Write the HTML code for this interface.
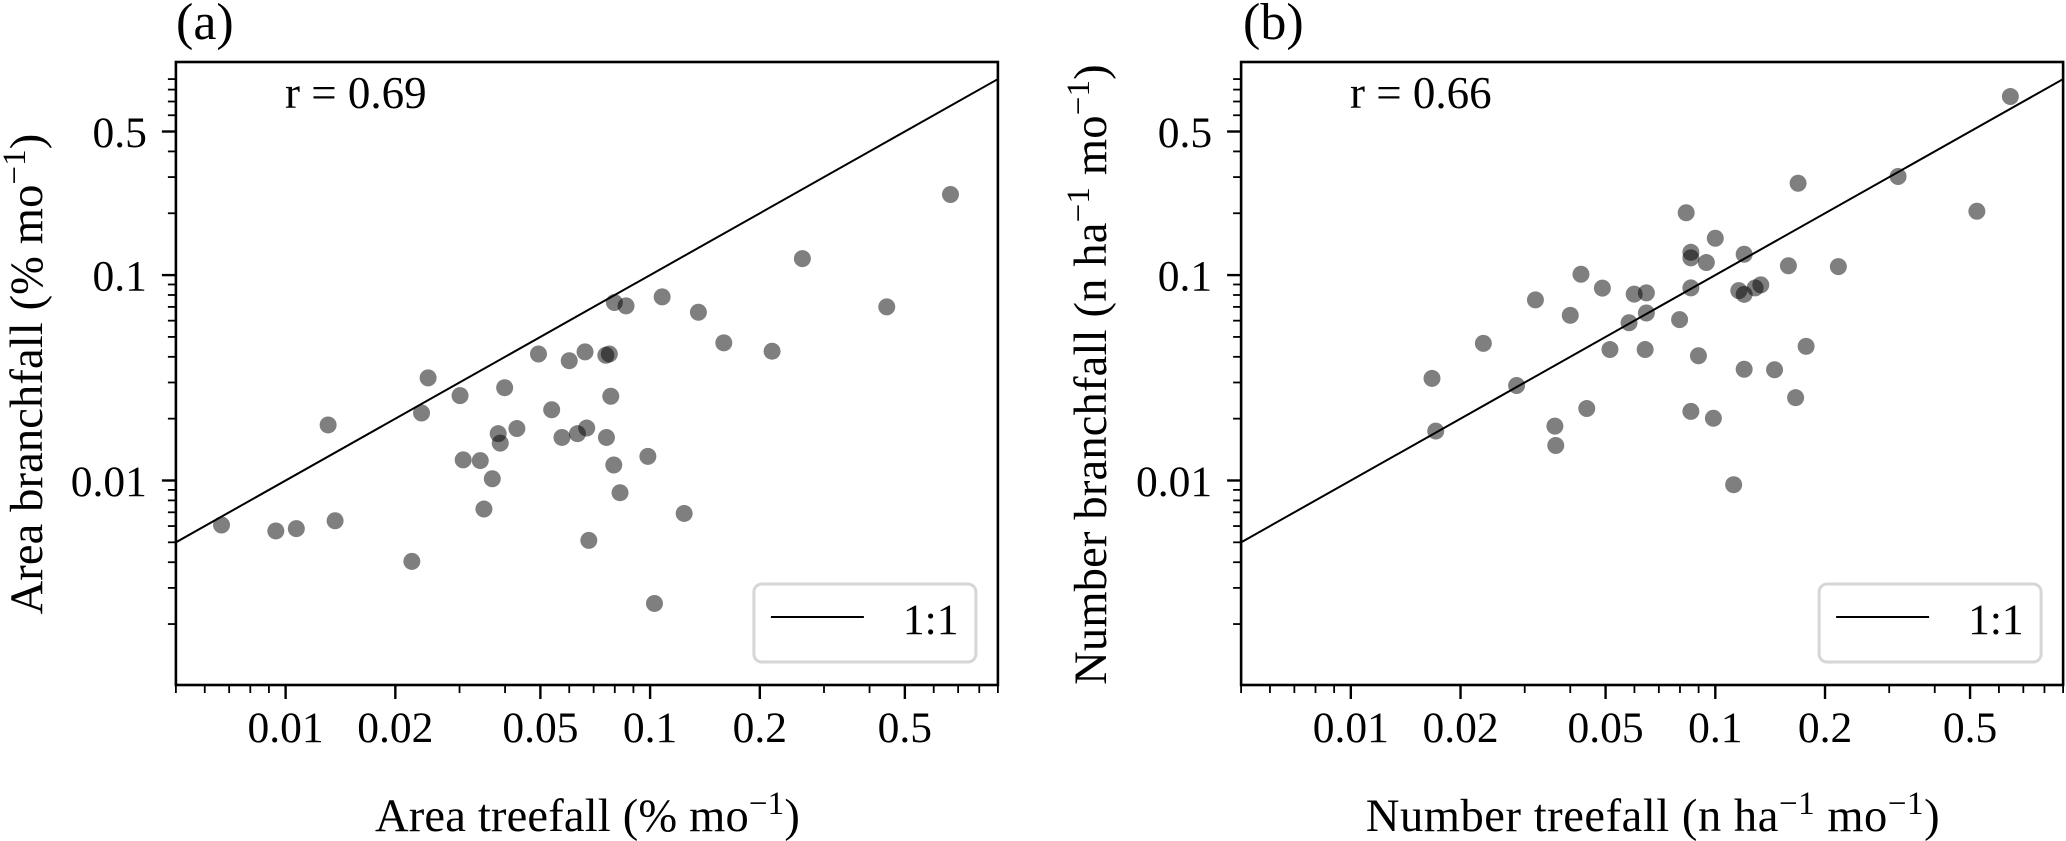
<!DOCTYPE html>
<html>
<head>
<meta charset="utf-8">
<title>Branchfall versus treefall</title>
<style>
html,body{margin:0;padding:0;background:#fff;}
svg{display:block;}
text{font-family:"Liberation Serif",serif;fill:#000;}
.tick{font-size:43.5px;}
.lab{font-size:46.5px;}
.ttl{font-size:52px;}
.rv{font-size:45px;}
</style>
</head>
<body>
<svg id="fig" xmlns="http://www.w3.org/2000/svg" width="2066" height="841" viewBox="0 0 2066 841">
<rect x="0" y="0" width="2066" height="841" fill="#fff"/>
<g id="panel-a"></g>
<g id="panel-b"></g>

<text class="ttl" x="176" y="39">(a)</text>
<text class="ttl" x="1243" y="39">(b)</text>

<text class="rv" x="285" y="108" xml:space="preserve">r = 0.69</text>
<text class="rv" x="1350" y="108" xml:space="preserve">r = 0.66</text>

<text class="lab" x="587.5" y="831" text-anchor="middle" letter-spacing="0.18">Area treefall (% mo<tspan font-size="33" dy="-17">−1</tspan><tspan dy="17">)</tspan></text>
<text class="lab" x="1653" y="831" text-anchor="middle" letter-spacing="0.55">Number treefall (n ha<tspan font-size="33" dy="-17">−1</tspan><tspan dy="17"> mo</tspan><tspan font-size="33" dy="-17">−1</tspan><tspan dy="17">)</tspan></text>
<text class="lab" transform="translate(42,374) rotate(-90)" text-anchor="middle" letter-spacing="0.12">Area branchfall (% mo<tspan font-size="33" dy="-17">−1</tspan><tspan dy="17">)</tspan></text>
<text class="lab" transform="translate(1106,374.5) rotate(-90)" text-anchor="middle" letter-spacing="0.18">Number branchfall (n ha<tspan font-size="33" dy="-17">−1</tspan><tspan dy="17"> mo</tspan><tspan font-size="33" dy="-17">−1</tspan><tspan dy="17">)</tspan></text>
</svg>

<script>
const areaTreefall = [0.00667,0.0094,0.0107,0.01367,0.0222,0.01308,0.0246,0.0236,0.0301,0.0399,0.0494,0.06,0.0663,0.0537,0.0431,0.0383,0.0388,0.0307,0.0342,0.0369,0.035,0.0573,0.0632,0.067,0.0679,0.0756,0.0773,0.078,0.0798,0.0859,0.1079,0.1357,0.1593,0.2161,0.0759,0.0795,0.0986,0.0827,0.124,0.1028,0.2617,0.446,0.667];
const areaBranchfall = [0.00607,0.00568,0.00583,0.00637,0.00404,0.01864,0.0316,0.0213,0.0259,0.0283,0.0413,0.0383,0.0423,0.0221,0.0179,0.0169,0.0152,0.0126,0.0125,0.0102,0.00726,0.0162,0.0169,0.018,0.00511,0.0407,0.0413,0.0257,0.0735,0.0708,0.0783,0.0659,0.0468,0.0426,0.0162,0.0119,0.0131,0.00872,0.00691,0.00252,0.1203,0.07,0.2467];
const numberTreefall = [0.0167,0.0171,0.0231,0.0285,0.0363,0.0365,0.0444,0.0514,0.0642,0.0899,0.12,0.1454,0.1661,0.0857,0.0988,0.1123,0.0832,0.1,0.0857,0.0857,0.0945,0.12,0.1587,0.2176,0.1687,0.3173,0.522,0.645,0.049,0.0599,0.0647,0.0647,0.058,0.0798,0.0857,0.116,0.12,0.1286,0.1333,0.1775,0.0321,0.0428,0.04];
const numberBranchfall = [0.0314,0.0174,0.0465,0.029,0.0184,0.0148,0.0224,0.0434,0.0434,0.0405,0.0348,0.0346,0.0253,0.0217,0.0201,0.00954,0.2011,0.1511,0.1291,0.1213,0.1151,0.1263,0.111,0.11,0.28,0.302,0.2045,0.74,0.0864,0.0808,0.0819,0.0654,0.0586,0.0607,0.0866,0.084,0.0806,0.0866,0.0896,0.045,0.0757,0.1009,0.0637];

const xTickValues = [0.01,0.02,0.05,0.1,0.2,0.5];
const xTickLabels = ["0.01","0.02","0.05","0.1","0.2","0.5"];
const xMinorValues = [0.005,0.006,0.007,0.008,0.009,0.03,0.04,0.06,0.07,0.08,0.09,0.3,0.4,0.6,0.7,0.8,0.9];
const yTickValues = [0.01,0.1,0.5];
const yTickLabels = ["0.01","0.1","0.5"];
const yMinorValues = [0.002,0.003,0.004,0.005,0.006,0.007,0.008,0.009,0.02,0.03,0.04,0.05,0.06,0.07,0.08,0.09,0.2,0.3,0.4,0.6,0.7,0.8,0.9];
const oneToOne = [0.005,0.9];
const legendLabel = "1:1";

const xDomain = [0.005,0.9];
const yDomain = [0.00101,1.09];
const plotWidth = 822;
const plotTop = 62;
const plotBottom = 685;
const NS = "http://www.w3.org/2000/svg";

function xScale(v, left) {
  return left + Math.log10(v / xDomain[0]) / Math.log10(xDomain[1] / xDomain[0]) * plotWidth;
}
function yScale(v) {
  return plotBottom - Math.log10(v / yDomain[0]) / Math.log10(yDomain[1] / yDomain[0]) * (plotBottom - plotTop);
}
function tickLine(parent, x1, y1, x2, y2, w) {
  const l = document.createElementNS(NS, "line");
  l.setAttribute("x1", x1);
  l.setAttribute("y1", y1);
  l.setAttribute("x2", x2);
  l.setAttribute("y2", y2);
  l.setAttribute("stroke", "#000");
  l.setAttribute("stroke-width", w);
  parent.appendChild(l);
  return l;
}
function drawPanel(groupId, prefix, left, xs, ys) {
  const g = document.getElementById(groupId);
  const right = left + plotWidth;

  const clip = document.createElementNS(NS, "clipPath");
  clip.setAttribute("id", prefix + "-clip");
  const cr = document.createElementNS(NS, "rect");
  cr.setAttribute("x", left);
  cr.setAttribute("y", plotTop);
  cr.setAttribute("width", plotWidth);
  cr.setAttribute("height", plotBottom - plotTop);
  clip.appendChild(cr);
  g.appendChild(clip);

  const pts = document.createElementNS(NS, "g");
  pts.setAttribute("clip-path", "url(#" + prefix + "-clip)");
  
  
  g.appendChild(pts);
  xs.forEach(function (xv, i) {
    const c = document.createElementNS(NS, "circle");
    c.setAttribute("cx", xScale(xv, left));
    c.setAttribute("cy", yScale(ys[i]));
    c.setAttribute("r", 8.5);
    c.setAttribute("fill", "#000");
    c.setAttribute("fill-opacity", 0.5);
    
    
    pts.appendChild(c);
  });

  const ref = tickLine(pts, xScale(oneToOne[0], left), yScale(oneToOne[0]), xScale(oneToOne[1], left), yScale(oneToOne[1]), 2);
  
  

  const frame = document.createElementNS(NS, "rect");
  frame.setAttribute("x", left);
  frame.setAttribute("y", plotTop);
  frame.setAttribute("width", plotWidth);
  frame.setAttribute("height", plotBottom - plotTop);
  frame.setAttribute("fill", "none");
  frame.setAttribute("stroke", "#000");
  frame.setAttribute("stroke-width", 2.6);
  
  
  g.appendChild(frame);

  xMinorValues.forEach(function (v) {
    const t = tickLine(g, xScale(v, left), plotBottom, xScale(v, left), plotBottom + 8, 1.8);
    
    
  });
  yMinorValues.forEach(function (v) {
    const t = tickLine(g, left, yScale(v), left - 8, yScale(v), 1.8);
    
    
  });
  xTickValues.forEach(function (v, i) {
    const t = tickLine(g, xScale(v, left), plotBottom, xScale(v, left), plotBottom + 14, 2.4);
    
    
    const s = document.createElementNS(NS, "text");
    s.setAttribute("class", "tick");
    s.setAttribute("x", xScale(v, left));
    s.setAttribute("y", 742);
    s.setAttribute("text-anchor", "middle");
    
    
    s.textContent = xTickLabels[i];
    g.appendChild(s);
  });
  yTickValues.forEach(function (v, i) {
    const t = tickLine(g, left, yScale(v), left - 14, yScale(v), 2.4);
    
    
    const s = document.createElementNS(NS, "text");
    s.setAttribute("class", "tick");
    s.setAttribute("x", left - 29);
    s.setAttribute("y", yScale(v) + 15.5);
    s.setAttribute("text-anchor", "end");
    
    
    s.textContent = yTickLabels[i];
    g.appendChild(s);
  });

  const legend = document.createElementNS(NS, "g");
  
  
  g.appendChild(legend);
  const box = document.createElementNS(NS, "rect");
  box.setAttribute("x", left + 578);
  box.setAttribute("y", 584);
  box.setAttribute("width", 222);
  box.setAttribute("height", 78);
  box.setAttribute("rx", 8);
  box.setAttribute("fill", "#fff");
  box.setAttribute("stroke", "#d6d6d6");
  box.setAttribute("stroke-width", 3);
  
  
  legend.appendChild(box);
  const key = tickLine(legend, left + 595, 617, left + 688, 617, 2);
  
  
  const lt = document.createElementNS(NS, "text");
  lt.setAttribute("class", "tick");
  lt.setAttribute("x", left + 727);
  lt.setAttribute("y", 634);
  
  
  lt.textContent = legendLabel;
  legend.appendChild(lt);
}
drawPanel("panel-a", "panel-a", 175.9, areaTreefall, areaBranchfall);
drawPanel("panel-b", "panel-b", 1241.1, numberTreefall, numberBranchfall);
</script>
</body>
</html>
